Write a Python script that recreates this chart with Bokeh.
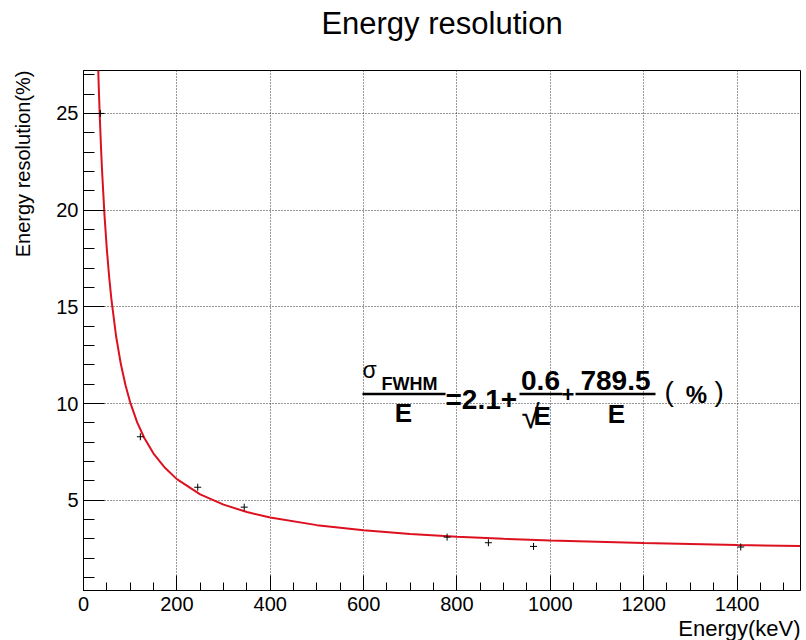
from bokeh.plotting import figure
from bokeh.models import (Range1d, SingleIntervalTicker, Title, Label, BoxAnnotation)
from bokeh.embed import file_html
from bokeh.resources import INLINE

# ---- data ----
energy_pts = [36.0, 121.8, 244.7, 344.3, 778.9, 867.4, 964.1, 1408.0]
resol_pts = [25.0, 8.28, 5.67, 4.64, 3.09, 2.80, 2.61, 2.58]

curve_E = [31, 33, 35, 38, 40, 45, 50, 55, 60, 70, 80, 90, 100, 115, 130, 150, 175,
           200, 250, 300, 350, 400, 500, 600, 700, 800, 900, 1000, 1200, 1400, 1535]
curve_R = [27.68, 26.13, 24.76, 22.97, 21.93, 19.73, 17.97, 16.54, 15.34, 13.45, 12.04,
           10.94, 10.06, 9.02, 8.23, 7.41, 6.66, 6.09, 5.30, 4.77, 4.39, 4.10, 3.71,
           3.44, 3.25, 3.11, 3.00, 2.91, 2.78, 2.68, 2.63]

x_lo, x_hi = 0, 1536
y_lo, y_hi = 0.33, 27.22

title_text = "Energy resolution"
x_title = "Energy(keV)"
y_title = "Energy resolution(%)"

FONT = "Liberation Sans"

p = figure(width=806, height=640, output_backend="svg", toolbar_location=None,
           title=None,
           x_range=Range1d(x_lo, x_hi), y_range=Range1d(y_lo, y_hi),
           min_border_left=83, min_border_right=6, min_border_top=70, min_border_bottom=46)
p.background_fill_color = "white"
p.border_fill_color = "white"
p.outline_line_color = "black"
p.outline_line_width = 1

# axes
p.xaxis.ticker = SingleIntervalTicker(interval=200, num_minor_ticks=4)
p.yaxis.ticker = SingleIntervalTicker(interval=5, num_minor_ticks=5)
for ax in (p.xaxis[0], p.yaxis[0]):
    ax.axis_line_color = "black"
    ax.major_tick_line_color = "black"
    ax.minor_tick_line_color = "black"
    ax.major_tick_out = 0
    ax.minor_tick_out = 0
    ax.major_label_text_font = FONT
    ax.major_label_text_font_size = "20px"
    ax.major_label_text_color = "black"
p.xaxis.major_tick_in = 15
p.xaxis.minor_tick_in = 8
p.yaxis.major_tick_in = 21
p.yaxis.minor_tick_in = 11
p.xaxis.major_label_standoff = 6
p.yaxis.major_label_standoff = 5

# grid
for g in (p.xgrid[0], p.ygrid[0]):
    g.grid_line_color = "black"
    g.grid_line_alpha = 0.8
    g.grid_line_dash = "1 2"
    g.grid_line_width = 1

# spacers (empty titles) to push the real titles outward
p.add_layout(Title(text=" ", text_font_size="1px", standoff=20), "above")
p.add_layout(Title(text=" ", text_font_size="1px", standoff=5), "left")

# titles (as layout titles so they sit outside the frame)
p.add_layout(Title(text=title_text, align="center", vertical_align="top",
                   text_font=FONT, text_font_size="31px", text_font_style="normal",
                   text_color="black", standoff=10), "above")
p.add_layout(Title(text=x_title, align="right", text_font=FONT,
                   text_font_size="22px", text_font_style="normal",
                   text_color="black", standoff=0), "below")
p.add_layout(Title(text=y_title, align="right", vertical_align="top", text_font=FONT,
                   text_font_size="20px", text_font_style="normal",
                   text_color="black", standoff=20), "left")

# fit curve and points
p.line(curve_E, curve_R, line_color="#dd1020", line_width=2)
p.scatter(energy_pts, resol_pts, marker="cross", size=7, line_color="black", line_width=1)

# ---- formula annotation (pixel positions -> data) ----
FL, FB = 83.0, 594.0
sx = (x_hi - x_lo) / (800.0 - FL)
sy = (y_hi - y_lo) / (FB - 70.0)
def dx(px):
    return x_lo + (px - FL) * sx
def dy(py):
    return y_lo + (FB - py) * sy

def lab(txt, px, py, size, bold=True, align="left"):
    # empirical baseline correction (text is drawn ~0.36*size below the anchor)
    py = py - 0.36 * size
    p.add_layout(Label(x=dx(px), y=dy(py), text=txt, text_font=FONT,
                       text_font_size=f"{size}px",
                       text_font_style="bold" if bold else "normal",
                       text_align=align, text_baseline="alphabetic",
                       text_color="black"))

def bar(px0, px1, py, th=2.5):
    p.add_layout(BoxAnnotation(left=dx(px0), right=dx(px1), bottom=dy(py + th / 2),
                               top=dy(py - th / 2), fill_color="black", fill_alpha=1.0,
                               line_alpha=0, level="overlay"))

lab("σ", 362, 380, 23, bold=False)
lab("FWHM", 381, 392, 18)
bar(362, 445, 396)
lab("E", 403, 424, 26, align="center")
lab("=2.1+", 445, 412, 28)
lab("0.6", 540, 392, 28, align="center")
bar(519, 562, 396)
lab("√", 521, 431, 33, bold=False)
lab("E", 533, 428, 26)
lab("+", 561, 404, 22)
lab("789.5", 615, 392, 28, align="center")
bar(575, 655, 396)
lab("E", 616, 426, 26, align="center")
lab("(", 664, 404, 28, bold=False)
lab("%", 696, 405, 24, align="center")
lab(")", 714, 404, 28, bold=False)

open("out.html", "w").write(file_html(p, INLINE))
